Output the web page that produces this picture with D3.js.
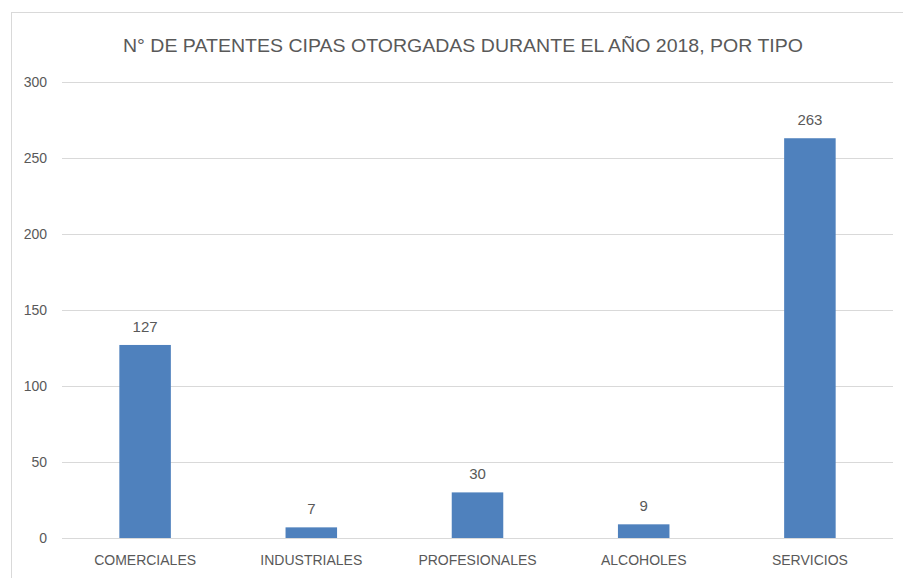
<meta charset="utf-8">
<style>
body { margin: 0; background: #fff; }
text { font-family: "Liberation Sans", sans-serif; fill: #595959; }
</style>
<body>
<script src="https://d3js.org/d3.v7.js"></script>
<script>
var categories = ["COMERCIALES", "INDUSTRIALES", "PROFESIONALES", "ALCOHOLES", "SERVICIOS"];
var values = [127, 7, 30, 9, 263];
var yTicks = [0, 50, 100, 150, 200, 250, 300];

var W = 903, H = 578;
var margin = {top: 82, right: 10, bottom: 40, left: 62},
    width = 893 - margin.left,
    height = 538 - margin.top;

var svg = d3.select("body").append("svg")
    .attr("width", W)
    .attr("height", H);

// chart frame
svg.append("rect")
    .attr("x", 11.5).attr("y", 12.5)
    .attr("width", 1000).attr("height", 1000)
    .attr("fill", "none")
    .attr("stroke", "#d9d9d9");

svg.append("text")
    .attr("x", 463).attr("y", 52)
    .attr("text-anchor", "middle")
    .attr("textLength", 680)
    .attr("lengthAdjust", "spacingAndGlyphs")
    .style("font-size", "19px")
    .text("N° DE PATENTES CIPAS OTORGADAS DURANTE EL AÑO 2018, POR TIPO");

var g = svg.append("g")
    .attr("transform", "translate(" + margin.left + "," + margin.top + ")");

var x = d3.scaleBand().domain(categories).range([0, width]).paddingInner(0.69).paddingOuter(0.345);
var y = d3.scaleLinear().domain([0, 300]).range([height, 0]);

// gridlines
g.selectAll(".grid").data(yTicks).enter().append("line")
    .attr("x1", 0).attr("x2", width)
    .attr("y1", function(d) { return y(d) + 0.5; })
    .attr("y2", function(d) { return y(d) + 0.5; })
    .attr("stroke", "#d9d9d9")
    .attr("stroke-width", 1.2);

var yAxis = g.append("g")
    .call(d3.axisLeft(y).tickValues(yTicks).tickSize(0).tickPadding(15));
yAxis.select(".domain").remove();
yAxis.selectAll("text").style("font-size", "14px").style("fill", "#595959")
    .style("font-family", "Liberation Sans, sans-serif");

g.selectAll(".bar").data(values).enter().append("rect")
    .attr("x", function(d, i) { return x(categories[i]); })
    .attr("width", x.bandwidth())
    .attr("y", function(d) { return y(d); })
    .attr("height", function(d) { return height - y(d); })
    .attr("fill", "#4f81bd");

g.selectAll(".lbl").data(values).enter().append("text")
    .attr("x", function(d, i) { return x(categories[i]) + x.bandwidth() / 2; })
    .attr("y", function(d) { return y(d) - 13; })
    .attr("text-anchor", "middle")
    .style("font-size", "15px")
    .text(function(d) { return d; });

var xAxis = g.append("g")
    .attr("transform", "translate(0," + height + ")")
    .call(d3.axisBottom(x).tickSize(0).tickPadding(17));
xAxis.select(".domain").remove();
xAxis.selectAll("text").style("font-size", "14px").style("fill", "#595959")
    .style("font-family", "Liberation Sans, sans-serif");
</script>
</body>
